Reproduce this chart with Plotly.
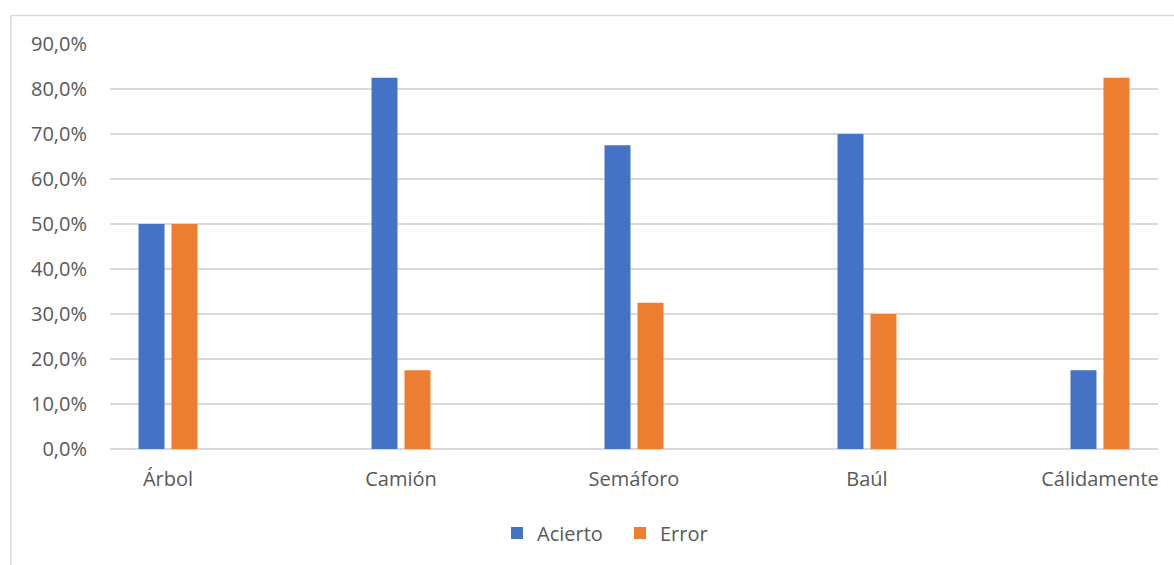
import plotly.graph_objects as go

# Word-association results per stimulus
categorias = ["Árbol", "Camión", "Semáforo", "Baúl", "Cálidamente"]
acierto = [0.50, 0.825, 0.675, 0.70, 0.175]
error = [0.50, 0.175, 0.325, 0.30, 0.825]
ticks_y = [0, 0.1, 0.2, 0.3, 0.4, 0.5, 0.6, 0.7, 0.8, 0.9]

AZUL = "#4472C4"
NARANJA = "#ED7D31"
GRIS = "#D9D9D9"
TEXTO = "#595959"
FUENTE = "Open Sans"
TAM = 20

fig = go.Figure()
fig.add_trace(go.Bar(name="Acierto", x=categorias, y=acierto, marker_color=AZUL,
                     marker_line_width=0))
fig.add_trace(go.Bar(name="Error", x=categorias, y=error, marker_color=NARANJA,
                     marker_line_width=0))

W, H = 1174, 565
L, R, T, B = 110, 16, 44, 116
pw = W - L - R
ph = H - T - B

# chart-area frame (extends past the right/bottom edges)
def px_x(p):
    return (p - L) / pw

def px_y(p):
    return (H - B - p) / ph

fig.add_shape(type="line", xref="paper", yref="paper",
              x0=px_x(11), x1=px_x(W + 10), y0=px_y(15.5), y1=px_y(15.5),
              line=dict(color=GRIS, width=1.5), layer="below")
fig.add_shape(type="line", xref="paper", yref="paper",
              x0=px_x(11), x1=px_x(11), y0=px_y(15.5), y1=px_y(H + 10),
              line=dict(color=GRIS, width=1.5), layer="below")

fig.update_layout(
    width=W, height=H,
    margin=dict(l=L, r=R, t=T, b=B),
    paper_bgcolor="white", plot_bgcolor="white",
    separators=",.",
    barmode="group",
    bargap=0.717,
    bargroupgap=0.212,
    font=dict(family=FUENTE, color=TEXTO, size=TAM),
    legend=dict(orientation="h", x=px_x(620), xanchor="center",
                y=px_y(533), yanchor="middle",
                font=dict(size=TAM, color=TEXTO, family=FUENTE),
                itemwidth=30, entrywidth=78, traceorder="normal"),
    showlegend=True,
)
fig.update_xaxes(range=[-0.249, 4.249], showgrid=False, showline=False,
                 zeroline=False, ticks="", ticklabelstandoff=16,
                 tickfont=dict(size=TAM, color=TEXTO, family=FUENTE))
fig.update_yaxes(range=[0, 0.9], tickvals=ticks_y, tickformat=".1%",
                 showgrid=True, gridcolor=GRIS, gridwidth=1.5,
                 zeroline=True, zerolinecolor=GRIS, zerolinewidth=1.5,
                 showline=False, ticks="", ticklabelstandoff=22,
                 tickfont=dict(size=TAM, color=TEXTO, family=FUENTE))

fig.write_html("out.html")
